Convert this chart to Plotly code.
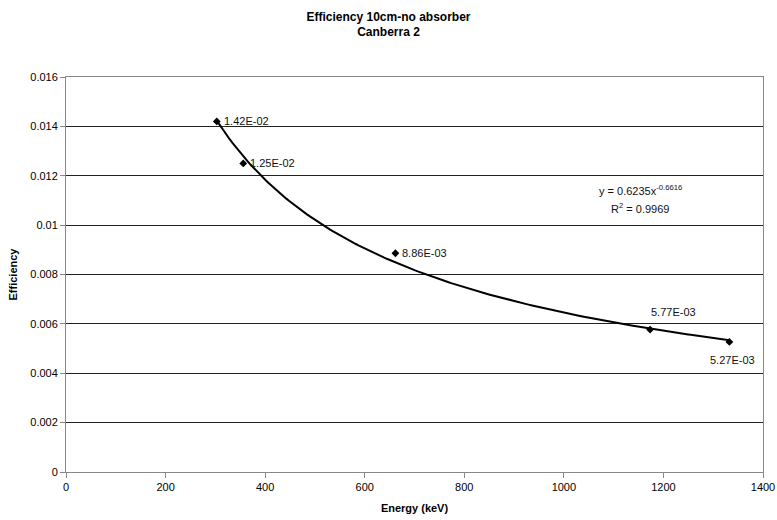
import numpy as np
import plotly.graph_objects as go

# Data
energy_kev = [302.85, 356.01, 661.66, 1173.2, 1332.5]
efficiency = [0.0142, 0.0125, 0.00886, 0.00577, 0.00527]
labels = ["1.42E-02", "1.25E-02", "8.86E-03", "5.77E-03", "5.27E-03"]

# Power-law trendline coefficients as shown on chart
fit_a = 0.6235
fit_b = -0.6616
r_squared = 0.9969

y_ticks = [0, 0.002, 0.004, 0.006, 0.008, 0.01, 0.012, 0.014, 0.016]
y_ticktext = ["0", "0.002", "0.004", "0.006", "0.008", "0.01", "0.012", "0.014", "0.016"]
x_ticks = [0, 200, 400, 600, 800, 1000, 1200, 1400]

FONT = "Liberation Sans, Arial, sans-serif"

xfit = np.linspace(min(energy_kev), max(energy_kev), 200)
yfit = fit_a * xfit ** fit_b

fig = go.Figure()
fig.add_trace(go.Scatter(x=xfit, y=yfit, mode="lines",
                         line=dict(color="black", width=2), hoverinfo="skip",
                         showlegend=False))
fig.add_trace(go.Scatter(x=energy_kev, y=efficiency, mode="markers",
                         marker=dict(symbol="diamond", size=6, color="black"),
                         showlegend=False))

# label offsets (pixels) and anchors
offsets = [
    dict(xanchor="left", yanchor="middle", xshift=5, yshift=0),
    dict(xanchor="left", yanchor="middle", xshift=5, yshift=0),
    dict(xanchor="left", yanchor="middle", xshift=5, yshift=0),
    dict(xanchor="center", yanchor="middle", xshift=23, yshift=18),
    dict(xanchor="center", yanchor="middle", xshift=3, yshift=-18),
]
for xv, yv, t, o in zip(energy_kev, efficiency, labels, offsets):
    fig.add_annotation(x=xv, y=yv, text=t, showarrow=False,
                       font=dict(family=FONT, size=11, color="#111"), **o)

fig.add_annotation(x=1153, y=0.01142, xref="x", yref="y",
                   text=f"y = {fit_a}x<sup>{fit_b}</sup>", showarrow=False,
                   font=dict(family=FONT, size=11, color="#111"))
fig.add_annotation(x=1153, y=0.01070, xref="x", yref="y",
                   text=f"R<sup>2</sup> = {r_squared}", showarrow=False,
                   font=dict(family=FONT, size=11, color="#111"))

fig.update_layout(
    width=777, height=520,
    margin=dict(l=66, r=14, t=77, b=48, autoexpand=False),
    paper_bgcolor="white", plot_bgcolor="white",
    font=dict(family=FONT, size=11, color="black"),
    title=dict(text="<b>Efficiency 10cm-no absorber<br>Canberra 2</b>",
               x=0.5, xref="container", xanchor="center",
               y=0.96, yref="container", yanchor="top",
               font=dict(family=FONT, size=12, color="black")),
    xaxis=dict(range=[0, 1400], tickvals=x_ticks, showgrid=False,
               showline=True, linecolor="#888", linewidth=1, mirror=True,
               ticks="outside", ticklen=5, tickcolor="#888",
               zeroline=False, automargin=False,
               title=dict(text="<b>Energy (keV)</b>", font=dict(family=FONT, size=11),
                          standoff=12),
               tickfont=dict(family=FONT, size=11)),
    yaxis=dict(range=[0, 0.016], tickvals=y_ticks, ticktext=y_ticktext,
               showgrid=True, gridcolor="#222", gridwidth=1,
               showline=True, linecolor="#888", linewidth=1, mirror=True,
               ticks="outside", ticklen=5, tickcolor="#888",
               zeroline=False, automargin=False,
               title=dict(text="<b>Efficiency</b>", font=dict(family=FONT, size=11),
                          standoff=10),
               tickfont=dict(family=FONT, size=11)),
)

fig.write_html("out.html")
